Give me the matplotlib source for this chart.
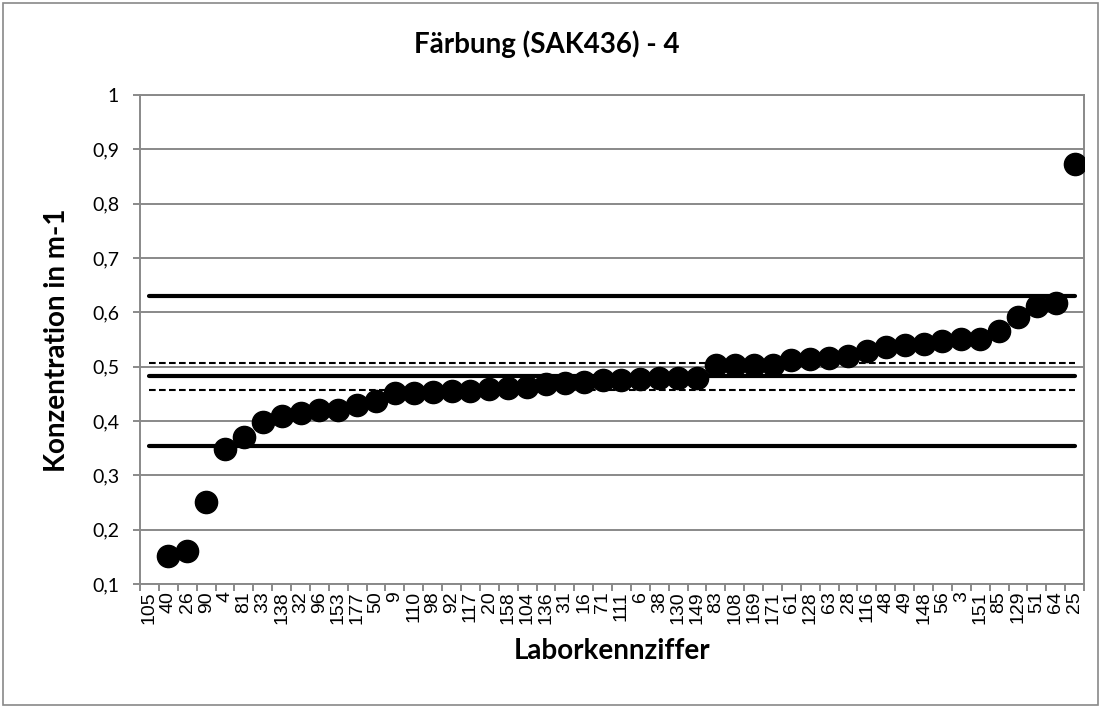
import numpy as np
import matplotlib
matplotlib.use("Agg")
import matplotlib.pyplot as plt
from matplotlib.patches import Rectangle

# Labor-IDs (x categories) and measured values; 105 has no value
labs = ["105", "40", "26", "90", "4", "81", "33", "138", "32", "96",
        "153", "177", "50", "9", "110", "98", "92", "117", "20", "158",
        "104", "136", "31", "16", "71", "111", "6", "38", "130", "149",
        "83", "108", "169", "171", "61", "128", "63", "28", "116", "48",
        "49", "148", "56", "3", "151", "85", "129", "51", "64", "25"]
values = [np.nan, 0.151, 0.161, 0.251, 0.349, 0.371, 0.398, 0.410, 0.415, 0.420,
          0.420, 0.430, 0.436, 0.451, 0.451, 0.453, 0.455, 0.456, 0.459, 0.460,
          0.462, 0.468, 0.470, 0.471, 0.475, 0.476, 0.478, 0.479, 0.479, 0.480,
          0.503, 0.503, 0.503, 0.503, 0.512, 0.514, 0.516, 0.519, 0.528, 0.537,
          0.539, 0.542, 0.547, 0.551, 0.551, 0.565, 0.592, 0.611, 0.618, 0.873]

# Reference lines
mean_value = 0.483
tol_upper = 0.631
tol_lower = 0.354
ci_upper = 0.507
ci_lower = 0.458

yticks = [0.1, 0.2, 0.3, 0.4, 0.5, 0.6, 0.7, 0.8, 0.9, 1.0]
ytick_labels = ["0,1", "0,2", "0,3", "0,4", "0,5", "0,6", "0,7", "0,8", "0,9", "1"]

grey = "#898989"

fig = plt.figure(figsize=(11.01, 7.08), dpi=100)
ax = fig.add_axes([0.1272, 0.1751, 0.8574, 0.6907])

x = np.arange(len(labs))

# grid
for yv in yticks:
    ax.axhline(yv, color=grey, lw=1.4, zorder=1)

# limit lines
ax.hlines([tol_upper, tol_lower, mean_value], x[0], x[-1], color="black",
          lw=3.0, capstyle="round", zorder=2)
ax.hlines([ci_upper, ci_lower], x[0], x[-1], color="black", lw=1.5,
          linestyles=[(0, (3.2, 1.6))], zorder=2)

# points
ax.plot(x, values, linestyle="none", marker="o", markersize=16,
        color="black", zorder=3)

ax.set_xlim(-0.5, len(labs) - 0.5)
ax.set_ylim(0.1, 1.0)

ax.set_yticks(yticks)
ax.set_yticklabels(ytick_labels, fontname="Lato", fontsize=14)
ax.set_xticks(x)
ax.set_xticklabels(labs, rotation=90, fontname="Liberation Sans", fontsize=14)
ax.set_xticks(np.arange(len(labs) + 1) - 0.5, minor=True)
ax.tick_params(axis="x", which="major", length=0, pad=5)
ax.tick_params(axis="x", which="minor", length=5, color=grey, width=1.4)
ax.tick_params(axis="y", length=5, color=grey, width=1.4, pad=10)

for sp in ax.spines.values():
    sp.set_color(grey)
    sp.set_linewidth(1.4)

fig.text(0.497, 0.938, "Färbung (SAK436) - 4", fontname="Lato",
         fontweight="bold", fontsize=20, ha="center", va="center")
fig.text(0.556, 0.08, "Laborkennziffer", fontname="Lato",
         fontweight="bold", fontsize=20, ha="center", va="center")
fig.text(0.052, 0.52, "Konzentration in m-1", fontname="Lato",
         fontweight="bold", fontsize=20, ha="center", va="center",
         rotation=90)

# outer chart frame
fig.patches.append(Rectangle((0.003, 0.004), 0.994, 0.992, transform=fig.transFigure,
                             fill=False, edgecolor=grey, lw=1.2))

fig.savefig("out.png", dpi=100)
